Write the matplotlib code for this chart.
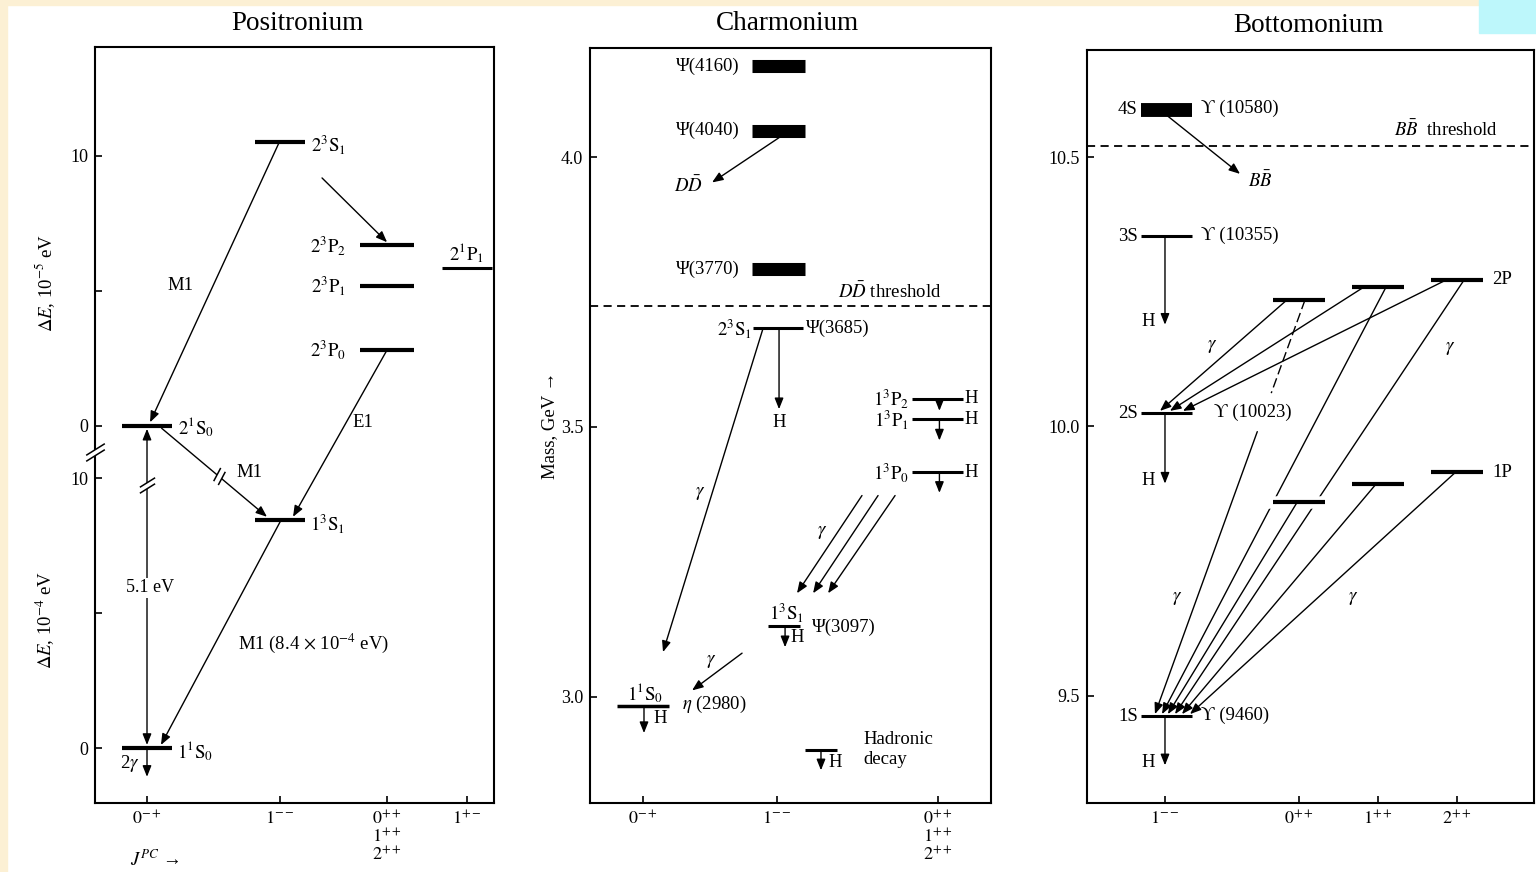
import numpy as np
import matplotlib.pyplot as plt
from matplotlib.path import Path
from matplotlib.patches import Rectangle

plt.rcParams['font.family'] = ['Liberation Serif', 'DejaVu Serif']
plt.rcParams['mathtext.fontset'] = 'stix'

# ---------------- data ----------------
# positronium, n=2 levels: dE in 1e-5 eV above 2^1S_0
ps2_names = [r'$2^1\mathrm{S}_0$', r'$2^3\mathrm{S}_1$', r'$2^3\mathrm{P}_2$',
             r'$2^3\mathrm{P}_1$', r'$2^3\mathrm{P}_0$', r'$2^1\mathrm{P}_1$']
ps2_dE = [0.0, 10.5, 6.67, 5.17, 2.80, 5.85]
ps2_jpc = [0, 1, 2, 2, 2, 3]
# positronium, n=1 levels: dE in 1e-4 eV above 1^1S_0
ps1_names = [r'$1^1\mathrm{S}_0$', r'$1^3\mathrm{S}_1$']
ps1_dE = [0.0, 8.45]
ps1_jpc = [0, 1]
ps_ticks = [r'$0^{-+}$', r'$1^{--}$', '$0^{++}$\n$1^{++}$\n$2^{++}$', r'$1^{+-}$']

# charmonium, mass in GeV
cc_broad_names = ['Ψ(4160)', 'Ψ(4040)', 'Ψ(3770)']
cc_broad_mass = [4.168, 4.049, 3.792]
cc_DD_threshold = 3.724
cc_names = [r'$2^3\mathrm{S}_1$', r'$1^3\mathrm{P}_2$', r'$1^3\mathrm{P}_1$',
            r'$1^3\mathrm{P}_0$', r'$1^3\mathrm{S}_1$', r'$1^1\mathrm{S}_0$']
cc_mass = [3.683, 3.552, 3.514, 3.416, 3.131, 2.983]
cc_ticks = [r'$0^{-+}$', r'$1^{--}$', '$0^{++}$\n$1^{++}$\n$2^{++}$']

# bottomonium, mass in GeV
bb_S_names = ['4S', '3S', '2S', '1S']
bb_S_tags = ['ϒ (10580)', 'ϒ (10355)', 'ϒ (10023)', 'ϒ (9460)']
bb_S_mass = [10.588, 10.353, 10.025, 9.462]
bb_BB_threshold = 10.521
bb_2P_mass = [10.235, 10.259, 10.272]
bb_1P_mass = [9.860, 9.894, 9.915]
bb_ticks = [r'$1^{--}$', r'$0^{++}$', r'$1^{++}$', r'$2^{++}$']

# ---------------- helpers ----------------
W, H = 1536, 872
PX = 0.72  # pixel -> point at 100 dpi
fig = plt.figure(figsize=(W / 100, H / 100), dpi=100)
fig.patches.append(Rectangle((0, 1 - 5 / H), 1479 / W, 5 / H, transform=fig.transFigure,
                             color='#fcf0d4', zorder=0))
fig.patches.append(Rectangle((0, 0), 7 / W, 1, transform=fig.transFigure, color='#fcf0d4', zorder=0))
fig.patches.append(Rectangle((1479 / W, 1 - 33 / H), 57 / W, 33 / H, transform=fig.transFigure,
                             color='#bdf7fb', zorder=0))


def panel(x0, y0, x1, y1):
    return fig.add_axes([x0 / W, 1 - y1 / H, (x1 - x0) / W, (y1 - y0) / H])


def style(ax, xlim, ylim, xt, xtl, yt, ytl):
    ax.set_xlim(*xlim)
    ax.set_ylim(*ylim)
    ax.set_xticks(xt)
    ax.set_xticklabels(xtl, fontsize=13, linespacing=0.95)
    ax.set_yticks(yt)
    ax.set_yticklabels(ytl, fontsize=13)
    ax.tick_params(direction='in', length=5, width=1.2, pad=5)
    for s in ax.spines.values():
        s.set_linewidth(1.5)


def level(ax, x, y, hw, lw=2.2, z=4, color='k'):
    ax.plot([x - hw, x + hw], [y, y], color=color, lw=lw, solid_capstyle='butt', zorder=z)


def arrow(ax, x0, y0, x1, y1, style='-|>', lw=1.0, z=3):
    if '>' in style:
        style += ',head_length=0.55,head_width=0.22'
    ax.annotate('', xy=(x1, y1), xytext=(x0, y0), zorder=z,
                arrowprops=dict(arrowstyle=style, color='k', lw=lw, shrinkA=0, shrinkB=0,
                                mutation_scale=12))


def lab(ax, x, y, s, dx=0, dy=0, ha='center', va='center', size=13.5, **kw):
    ax.annotate(s, (x, y), xytext=(dx * PX, dy * PX), textcoords='offset points',
                ha=ha, va=va, fontsize=size, **kw)


def brk(ax, x, y, a_stroke, a_line, length=20, sep=5):
    # "//" break mark drawn as a marker, with a white gap between the strokes
    h = np.array([np.cos(np.radians(a_stroke)), np.sin(np.radians(a_stroke))]) * length / 2
    s = np.array([np.cos(np.radians(a_line)), np.sin(np.radians(a_line))]) * sep / 2
    pts = np.array([-h - s, h - s, h + s, -h + s])
    ms = 2 * np.abs(pts).max() * PX
    gap = Path(np.vstack([pts, pts[:1]]),
               [Path.MOVETO, Path.LINETO, Path.LINETO, Path.LINETO, Path.CLOSEPOLY])
    strokes = Path([pts[0], pts[1], pts[3], pts[2]],
                   [Path.MOVETO, Path.LINETO, Path.MOVETO, Path.LINETO])
    ax.plot([x], [y], marker=gap, ms=ms, mfc='white', mec='none', mew=0, clip_on=False, zorder=6)
    ax.plot([x], [y], marker=strokes, ms=ms, mfc='none', mec='k', mew=1.1, clip_on=False, zorder=7)


# ---------------- titles / axis labels ----------------
fig.text(297 / W, 1 - 23 / H, 'Positronium', ha='center', va='center', fontsize=19.5)
fig.text(787 / W, 1 - 24 / H, 'Charmonium', ha='center', va='center', fontsize=19.5)
fig.text(1308 / W, 1 - 25 / H, 'Bottomonium', ha='center', va='center', fontsize=19.5)
fig.text(45 / W, 1 - 283 / H, r'$\Delta E$, 10$^{-5}$ eV', rotation=90, ha='center', va='center', fontsize=13.5)
fig.text(45 / W, 1 - 620 / H, r'$\Delta E$, 10$^{-4}$ eV', rotation=90, ha='center', va='center', fontsize=13.5)
fig.text(130 / W, 1 - 860 / H, r'$J^{PC}$ →', ha='left', va='center', fontsize=13.5)
fig.text(550 / W, 1 - 425 / H, 'Mass, GeV →', rotation=90, ha='center', va='center', fontsize=13.5)

# ---------------- Positronium ----------------
ax1 = panel(95, 47, 494, 803)
UP = 11.95  # where 0 of the n=2 scale sits on the n=1 scale
ps_x = [0, 1, 1.805, 2.406]
style(ax1, (-0.391, 2.609), (-2.03, 25.97), ps_x, ps_ticks,
      [0, 5, 10, UP, UP + 5, UP + 10], ['0', '', '10', '0', '', '10'])
brk(ax1, -0.391, 10.97, 32, 90, 22, 6)

for name, e, j in zip(ps2_names, ps2_dE, ps2_jpc):
    x, y = ps_x[j], UP + e
    hw = 0.205 if j == 2 else 0.19
    level(ax1, x, y, hw, lw=2.2 if j == 3 else 3.0)
    if j == 2:
        lab(ax1, x - hw, y, name, dx=-14, ha='right')
    elif j == 3:
        lab(ax1, x, y, name, dy=3, va='bottom')
    else:
        lab(ax1, x + hw, y, name, dx=6, dy=-2, ha='left')
for name, e, j in zip(ps1_names, ps1_dE, ps1_jpc):
    x = ps_x[j]
    level(ax1, x, e, 0.19, lw=3.0)
    lab(ax1, x + 0.19, e, name, dx=5, dy=-3, ha='left')

e21S0, e23S1, e23P2, e23P0 = (UP + ps2_dE[i] for i in (0, 1, 2, 4))
e11S0, e13S1 = ps1_dE
arrow(ax1, ps_x[1] - 0.005, e23S1, ps_x[0] + 0.023, e21S0 + 0.12)
lab(ax1, 0.25, 17.15, 'M1')
arrow(ax1, ps_x[1] + 0.316, e23S1 - 1.33, ps_x[2], e23P2 + 0.12)
arrow(ax1, ps_x[2], e23P0, ps_x[1] + 0.098, e13S1 + 0.12)
lab(ax1, 1.624, 12.05, 'E1')
m1a = np.array([ps_x[0] + 0.11, e21S0 - 0.1])
m1b = np.array([ps_x[1] - 0.098, e13S1 + 0.12])
arrow(ax1, *m1a, *m1b)
bp = m1a + 0.54 * (m1b - m1a)
brk(ax1, bp[0], bp[1], 62, -40, 15, 6)
lab(ax1, 0.767, 10.2, 'M1')
arrow(ax1, ps_x[0], e21S0 - 0.12, ps_x[0], e11S0 + 0.12, style='<|-|>')
brk(ax1, ps_x[0], 9.75, 32, 90, 18, 6)
ax1.text(ps_x[0] + 0.02, 5.94, '5.1 eV', ha='center', va='center', fontsize=13,
         bbox=dict(fc='white', ec='none', pad=1), zorder=5)
arrow(ax1, ps_x[1] + 0.008, e13S1, ps_x[0] + 0.105, e11S0 + 0.12)
lab(ax1, 0.684, 3.9, r'M1 (8.4 $\times$ 10$^{-4}$ eV)', ha='left')
arrow(ax1, ps_x[0], e11S0, ps_x[0], e11S0 - 1.06)
lab(ax1, ps_x[0], e11S0, r'2$\gamma$', dx=-17, dy=-15)

# ---------------- Charmonium ----------------
ax2 = panel(590, 48, 991, 803)
cx = [0, 1, 2.2]
style(ax2, (-0.396, 2.597), (2.8034, 4.2021), cx, cc_ticks, [3.0, 3.5, 4.0], ['3.0', '3.5', '4.0'])

for name, m in zip(cc_broad_names, cc_broad_mass):
    level(ax2, 1.01, m, 0.198, lw=9.4)
    lab(ax2, 1.01 - 0.198, m, name, dx=-12, ha='right')
ax2.axhline(cc_DD_threshold, color='k', lw=1.3, ls=(0, (4.5, 3)))
lab(ax2, 1.455, cc_DD_threshold, r'$D\bar{D}$ threshold', dy=14, ha='left')
arrow(ax2, 1.015, cc_broad_mass[1] - 0.013, 0.515, 3.953)
lab(ax2, 0.336, 3.946, r'$D\bar{D}$')

m2S, mP2, mP1, mP0, m1S, m1S0 = cc_mass
# 2^3S_1
level(ax2, 1.007, m2S, 0.187)
lab(ax2, 1.007 - 0.187, m2S, cc_names[0], dx=-1, ha='right')
lab(ax2, 1.007 + 0.187, m2S, 'Ψ(3685)', dx=3, ha='left')
arrow(ax2, 1.015, m2S, 1.015, 3.533)
lab(ax2, 1.015, 3.533, 'H', dy=-13)
# 1^3P_J
for name, m, drop in zip(cc_names[1:4], [mP2, mP1, mP0], [0.022, 0.039, 0.038]):
    level(ax2, cx[2], m, 0.19)
    lab(ax2, cx[2] - 0.19, m, name, dx=-3, ha='right')
    lab(ax2, cx[2] + 0.19, m, 'H', dx=1, ha='left')
    arrow(ax2, cx[2] + 0.012, m, cx[2] + 0.012, m - drop)
# 1^3S_1
level(ax2, 1.052, m1S, 0.12)
lab(ax2, 1.052, m1S, cc_names[4], dx=3, dy=14)
lab(ax2, 1.052 + 0.12, m1S, 'Ψ(3097)', dx=12, dy=-1, ha='left')
arrow(ax2, 1.06, m1S, 1.06, m1S - 0.039)
lab(ax2, 1.06, m1S, 'H', dx=12, dy=-11)
# 1^1S_0
level(ax2, cx[0], m1S0, 0.194, lw=2.5)
lab(ax2, cx[0], m1S0, cc_names[5], dx=2, dy=13)
lab(ax2, cx[0] + 0.194, m1S0, r'$\eta$ (2980)', dx=13, dy=2, ha='left')
arrow(ax2, cx[0] + 0.007, m1S0, cx[0] + 0.007, m1S0 - 0.05)
lab(ax2, cx[0] + 0.007, m1S0, 'H', dx=16, dy=-12)
# radiative transitions
arrow(ax2, 0.896, m2S, 0.149, 3.083)
lab(ax2, 0.425, 3.376, r'$\gamma$')
for x0, x1 in zip([1.634, 1.754, 1.881], [1.149, 1.269, 1.381]):
    arrow(ax2, x0, 3.373, x1, 3.192)
lab(ax2, 1.336, 3.304, r'$\gamma$')
arrow(ax2, 0.739, 3.081, 0.366, 3.012)
lab(ax2, 0.507, 3.066, r'$\gamma$')
# key for hadronic decay
level(ax2, 1.328, 2.901, 0.12)
arrow(ax2, 1.328, 2.901, 1.328, 2.864)
lab(ax2, 1.328, 2.901, 'H', dx=14, dy=-12)
ax2.text(1.642, 2.903, 'Hadronic\ndecay', ha='left', va='center', fontsize=13.5, linespacing=1.25)

# ---------------- Bottomonium ----------------
ax3 = panel(1087, 50, 1534, 803)
bx = [0, 1, 1.59, 2.18]
style(ax3, (-0.582, 2.754), (9.301, 10.699), bx, bb_ticks, [9.5, 10.0, 10.5], ['9.5', '10.0', '10.5'])

sx, shw = 0.01, 0.19
for i, (name, tag, m) in enumerate(zip(bb_S_names, bb_S_tags, bb_S_mass)):
    level(ax3, sx, m, shw, lw=10 if i == 0 else 2.2)
    lab(ax3, sx - shw, m, name, dx=-3, ha='right')
    lab(ax3, sx + shw, m, tag, dx=22 if i == 2 else 9, dy=1, ha='left')
ax3.axhline(bb_BB_threshold, color='k', lw=1.3, ls=(0, (4.5, 3)))
lab(ax3, 2.097, bb_BB_threshold, r'$B\bar{B}$  threshold', dy=16)
arrow(ax3, 0.022, bb_S_mass[0] - 0.012, 0.56, 10.469)
lab(ax3, 0.709, 10.456, r'$B\bar{B}$')
for m, tip in zip(bb_S_mass[1:], [10.189, 9.894, 9.371]):
    arrow(ax3, 0.0, m, 0.0, tip)
    lab(ax3, 0.0, tip, 'H', dx=-17, dy=3)

for m, j in zip(bb_2P_mass, [1, 2, 3]):
    level(ax3, bx[j], m, 0.194, lw=3.0)
for m, j in zip(bb_1P_mass, [1, 2, 3]):
    if j == 1:
        ax3.plot([bx[j] - 0.194, bx[j] + 0.194], [m, m], color='white', lw=9, zorder=3)
    level(ax3, bx[j], m, 0.194, lw=3.0)
lab(ax3, bx[3] + 0.194, bb_2P_mass[2], '2P', dx=9, ha='left')
lab(ax3, bx[3] + 0.194, bb_1P_mass[2], '1P', dx=9, ha='left')

m2S, m1S = bb_S_mass[2], bb_S_mass[3]
# 2P -> 2S
for m, j, dx0, x1 in zip(bb_2P_mass, [1, 2, 3], [-0.09, -0.105, -0.082], [-0.037, 0.037, 0.134]):
    arrow(ax3, bx[j] + dx0, m, x1, m2S + 0.004)
# 2P -> 1S (the 0++ line is broken where it crosses the others)
a = np.array([bx[1] + 0.045, bb_2P_mass[0]])
b = np.array([-0.075, m1S + 0.004])
p1 = a + 0.225 * (b - a)
p2 = a + 0.318 * (b - a)
ax3.plot([a[0], p1[0]], [a[1], p1[1]], color='k', lw=1.0, ls=(0, (7, 3)), zorder=2)
arrow(ax3, *p2, *b, z=2)
for m, j, dx0, x1 in zip(bb_2P_mass[1:], [2, 3], [0.06, 0.052], [-0.022, 0.075]):
    arrow(ax3, bx[j] + dx0, m, x1, m1S + 0.004, z=2)
# 1P -> 1S
for m, j, x1 in zip(bb_1P_mass, [1, 2, 3], [0.022, 0.127, 0.187]):
    arrow(ax3, bx[j] - 0.012, m, x1, m1S + 0.004, z=5)
lab(ax3, 0.351, 10.148, r'$\gamma$')
lab(ax3, 2.127, 10.144, r'$\gamma$')
lab(ax3, 0.09, 9.68, r'$\gamma$')
lab(ax3, 1.403, 9.68, r'$\gamma$')

fig.savefig('out.png', dpi=100)
